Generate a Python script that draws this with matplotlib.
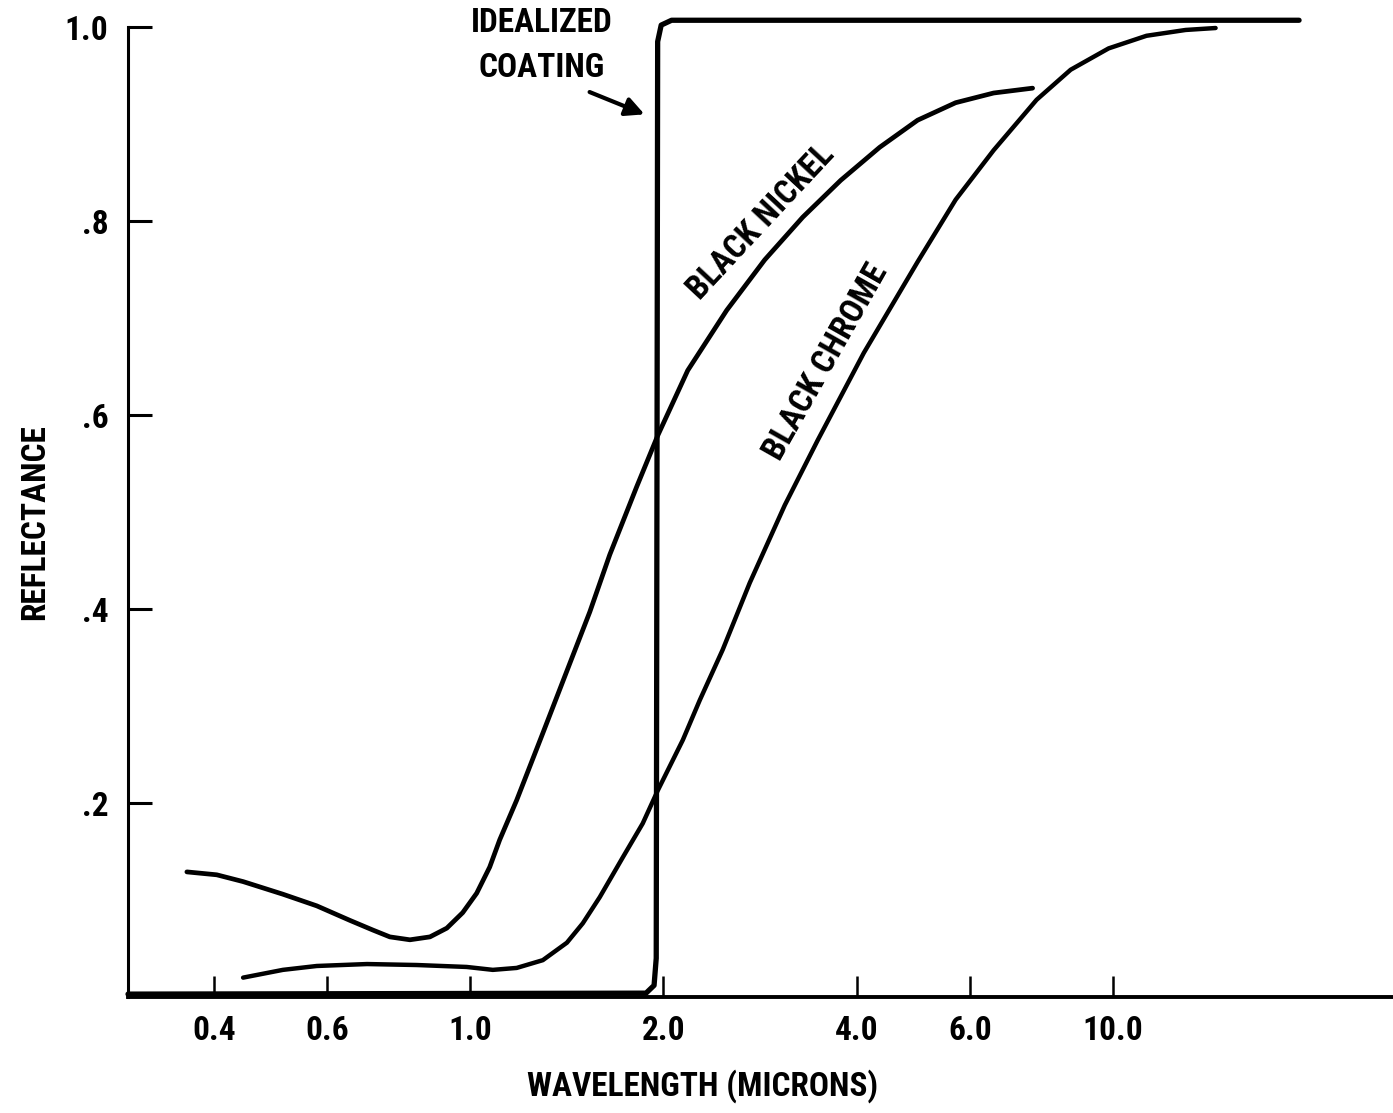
import numpy as np
import matplotlib
matplotlib.use('Agg')
import matplotlib.pyplot as plt

plt.rcParams['font.family'] = ['Roboto Condensed', 'Archivo Narrow', 'DejaVu Sans']
plt.rcParams['font.weight'] = 'bold'

# wavelength (microns) / reflectance
nickel_wl = [0.363, 0.404, 0.444, 0.512, 0.578, 0.651, 0.707, 0.751, 0.807, 0.867,
             0.921, 0.975, 1.025, 1.074, 1.113, 1.183, 1.299, 1.431, 1.537, 1.651,
             1.818, 1.961, 2.183, 2.510, 2.876, 3.296, 3.776, 4.341, 4.974, 5.699,
             6.530, 7.508]
nickel_refl = [0.129, 0.126, 0.119, 0.106, 0.094, 0.079, 0.069, 0.062, 0.059, 0.062,
               0.071, 0.087, 0.107, 0.134, 0.162, 0.203, 0.272, 0.344, 0.397, 0.456,
               0.526, 0.579, 0.646, 0.708, 0.760, 0.804, 0.842, 0.876, 0.904, 0.922,
               0.932, 0.937]

chrome_wl = [0.444, 0.512, 0.578, 0.692, 0.827, 0.989, 1.086, 1.183, 1.299, 1.416,
             1.499, 1.593, 1.730, 1.858, 1.961, 2.145, 2.279, 2.474, 2.726, 3.090,
             3.477, 4.101, 4.974, 5.699, 6.530, 7.616, 8.605, 9.858, 11.29, 12.99,
             14.46]
chrome_refl = [0.020, 0.028, 0.032, 0.034, 0.033, 0.031, 0.028, 0.030, 0.038, 0.056,
               0.076, 0.103, 0.144, 0.179, 0.213, 0.265, 0.306, 0.358, 0.427, 0.507,
               0.574, 0.664, 0.758, 0.822, 0.873, 0.925, 0.956, 0.978, 0.991, 0.997,
               0.999]

ideal_wl = [0.294, 1.88, 1.935, 1.950, 1.960, 1.985, 2.06, 19.5]
ideal_refl = [0.003, 0.004, 0.012, 0.04, 0.985, 1.002, 1.007, 1.007]

xticks = [0.4, 0.6, 1.0, 2.0, 4.0, 6.0, 10.0]
xticklabels = ['0.4', '0.6', '1.0', '2.0', '4.0', '6.0', '10.0']
yticks = [0.2, 0.4, 0.6, 0.8, 1.0]
yticklabels = ['.2', '.4', '.6', '.8', '1.0']

fig = plt.figure(figsize=(13.93, 11.13), dpi=100)
ax = fig.add_axes([0.0919, 0.1042, 0.9081, 0.8715])

ax.plot(nickel_wl, nickel_refl, color='black', lw=3.4, solid_capstyle='round', clip_on=False)
ax.plot(chrome_wl, chrome_refl, color='black', lw=3.2, solid_capstyle='round', clip_on=False)
ax.plot(ideal_wl, ideal_refl, color='black', lw=3.8, solid_capstyle='round',
        solid_joinstyle='round', clip_on=False)

ax.set_xscale('log')
ax.set_xlim(0.294, 27.3)
ax.set_ylim(0, 1.0)

ax.spines['top'].set_visible(False)
ax.spines['right'].set_visible(False)
ax.spines['left'].set_linewidth(2.2)
ax.spines['bottom'].set_linewidth(2.8)

ax.set_xticks(xticks)
ax.set_xticklabels(xticklabels)
ax.xaxis.set_minor_locator(matplotlib.ticker.NullLocator())
ax.set_yticks(yticks)
ax.set_yticklabels(yticklabels)
ax.tick_params(axis='x', direction='in', length=15, width=1.8, pad=13, labelsize=24)
ax.tick_params(axis='y', direction='in', length=17, width=2.2, pad=14, labelsize=24)

ax.set_xlabel('WAVELENGTH (MICRONS)', fontsize=24, fontweight='bold')
ax.set_ylabel('REFLECTANCE', fontsize=24, fontweight='bold')
ax.xaxis.set_label_coords(0.4545, -0.074)
ax.yaxis.set_label_coords(-0.0605, 0.49)

ax.text(2.845, 0.799, 'BLACK NICKEL', rotation=47, rotation_mode='anchor',
        ha='center', va='center', fontsize=24, fontweight='bold')
ax.text(3.58, 0.655, 'BLACK CHROME', rotation=60.5, rotation_mode='anchor',
        ha='center', va='center', fontsize=24, fontweight='bold')

ax.text(1.295, 1.004, 'IDEALIZED', ha='center', va='center', fontsize=24,
        fontweight='bold', clip_on=False)
ax.text(1.295, 0.958, 'COATING', ha='center', va='center', fontsize=24,
        fontweight='bold', clip_on=False)
ax.annotate('', xy=(1.87, 0.910), xytext=(1.536, 0.933),
            arrowprops=dict(arrowstyle='-|>', color='black', lw=3,
                            mutation_scale=28, shrinkA=0, shrinkB=0))

plt.savefig('out.png', dpi=100)
